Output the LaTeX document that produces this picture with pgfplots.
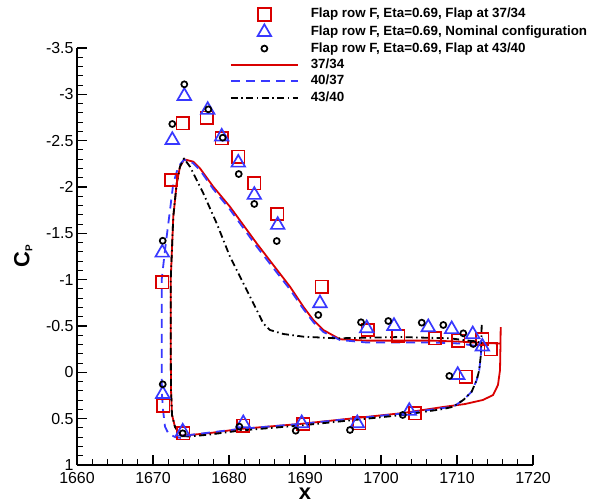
\documentclass[border=0pt]{standalone}
\usepackage{fontspec}
\setmainfont{Liberation Sans}
\usepackage{pgfplots}
\pgfplotsset{compat=1.18}
\definecolor{myred}{rgb}{0.85,0,0}
\definecolor{myblue}{rgb}{0.22,0.22,1}
\begin{document}
\begin{tikzpicture}
\path[use as bounding box] (0,0) rectangle (599bp,504bp);
\begin{axis}[
  at={(77bp,39bp)}, anchor=south west,
  scale only axis, width=456bp, height=417bp,
  xmin=1660, xmax=1720, ymin=-3.5, ymax=1,
  y dir=reverse,
  axis x line*=bottom, axis y line*=left,
  axis line style={line width=1.6bp},
  xtick={1660,1670,...,1720},
  ytick={-3.5,-3,-2.5,-2,-1.5,-1,-0.5,0,0.5,1},
  minor x tick num=4, minor y tick num=4,
  tick align=inside,
  major tick length=10bp, minor tick length=6bp,
  every tick/.style={black, line width=1.1bp},
  /pgf/number format/assume math mode=true,
  /pgf/number format/1000 sep={},
  tick label style={font=\fontsize{16}{19}\selectfont},
  xticklabel style={inner sep=0pt, yshift=-7.3bp},
  xlabel={x}, ylabel={C\raisebox{-3bp}{\fontsize{10}{12}\selectfont P}},
  label style={font=\bfseries\fontsize{22}{26}\selectfont, inner sep=0pt},
  xlabel style={at={(axis description cs:0.5,-0.0825)}, anchor=base},
  ylabel style={at={(axis description cs:-0.118,0.5)}, anchor=center},
  legend style={draw=none, fill=none, inner sep=0pt, outer sep=0pt,
    at={(0.3355,1.096)}, anchor=north west,
    font=\bfseries\fontsize{13.4}{15}\selectfont,
    column sep=12bp, row sep=3.4bp,
    nodes={inner sep=0pt, text height=10bp, text depth=3bp}},
  legend cell align=left,
  legend image code/.code={\draw[mark repeat=2,mark phase=2,#1] plot coordinates {(0bp,0bp) (33.5bp,0bp) (67bp,0bp)};},
  clip=false,
]
% Squares: Flap at 37/34
\addplot[only marks, mark=square, mark size=6.3bp, draw=myred, line width=1.7bp] coordinates {
(1671.22,-0.972) (1672.37,-2.076) (1673.91,-2.687) (1677.07,-2.748) (1679.04,-2.526)
(1681.22,-2.327) (1683.33,-2.04) (1686.36,-1.709) (1692.2,-0.924) (1698.25,-0.457)
(1702.28,-0.392) (1707.1,-0.367) (1710.17,-0.341) (1713.3,-0.36) (1714.43,-0.249)
(1711.14,0.047) (1704.47,0.442) (1697.14,0.550) (1689.78,0.557) (1681.88,0.576)
(1673.99,0.658) (1671.36,0.360)
};
\addlegendentry{Flap row F, Eta=0.69, Flap at 37/34}
% Triangles: nominal
\addplot[only marks, mark=triangle, mark size=7.8bp, draw=myblue, line width=1.7bp] coordinates {
(1671.22,-1.291) (1672.54,-2.507) (1674.12,-2.982) (1677.2,-2.831) (1679.04,-2.543)
(1681.22,-2.262) (1683.33,-1.914) (1686.41,-1.59) (1691.97,-0.745) (1698.12,-0.475)
(1701.71,-0.5) (1706.22,-0.486) (1709.3,-0.465) (1712.07,-0.41) (1713.33,-0.277)
(1710.09,0.029) (1703.72,0.417) (1696.88,0.55) (1689.57,0.55) (1681.88,0.55)
(1673.91,0.640) (1671.28,0.234)
};
\addlegendentry{Flap row F, Eta=0.69, Nominal configuration}
% Circles: Flap at 43/40
\addplot[only marks, mark=o, mark size=3bp, draw=black, line width=1.7bp] coordinates {
(1674.12,-3.108) (1672.54,-2.68) (1677.28,-2.838) (1679.17,-2.532) (1681.28,-2.14)
(1683.33,-1.817) (1686.28,-1.417) (1671.28,-1.42) (1691.75,-0.619) (1697.37,-0.54)
(1700.96,-0.554) (1705.36,-0.536) (1708.2,-0.511) (1710.83,-0.421) (1712.14,-0.306)
(1708.99,0.039) (1702.86,0.460) (1695.92,0.622) (1688.78,0.630) (1681.36,0.586)
(1673.91,0.658) (1671.28,0.129)
};
\addlegendentry{Flap row F, Eta=0.69, Flap at 43/40}
% 37/34 red solid
\addplot[myred, line width=1.8bp, line join=round, mark=none] coordinates {
(1715.75,-0.489) (1715.72,-0.295) (1715.66,-0.025) (1715.39,0.137) (1714.74,0.245)
(1713.42,0.298) (1711.05,0.342) (1708.16,0.374) (1702.9,0.439) (1689.34,0.557)
(1681.45,0.611) (1677.5,0.655) (1674.87,0.676) (1673.68,0.682) (1672.9,0.590)
(1672.5,0.460) (1672.37,0.190) (1672.33,-0.349) (1672.33,-0.997) (1672.67,-1.680)
(1673.12,-2.040) (1673.55,-2.219) (1674.12,-2.299) (1675.30,-2.273) (1676.18,-2.202)
(1677.93,-2.003) (1680.13,-1.787) (1681.88,-1.590) (1683.64,-1.392) (1685.83,-1.158)
(1688.03,-0.924) (1689.78,-0.708) (1691.09,-0.565) (1692.41,-0.457) (1694.6,-0.357)
(1698.12,-0.342) (1706.88,-0.342) (1710.39,-0.331) (1713.42,-0.317) (1715.66,-0.311)
};
\addlegendentry{37/34}
% 40/37 blue dashed
\addplot[myblue, line width=1.8bp, dash pattern=on 9bp off 6bp, line join=round, mark=none] coordinates {
(1713.16,-0.277) (1713.16,-0.206) (1712.93,-0.025) (1712.59,0.083) (1711.93,0.209)
(1710.83,0.298) (1709.51,0.371) (1708.16,0.385) (1702.9,0.444) (1689.34,0.557)
(1681.45,0.611) (1677.5,0.649) (1674.87,0.676) (1673.99,0.712) (1672.9,0.698)
(1672.01,0.658) (1671.58,0.587) (1671.32,0.406) (1671.14,0.190) (1671.14,-0.349)
(1671.14,-0.997) (1671.58,-1.320) (1672.24,-1.752) (1672.67,-2.040) (1673.33,-2.219)
(1674.08,-2.297) (1675.26,-2.259) (1676.18,-2.183) (1677.93,-1.978) (1680.13,-1.757)
(1681.88,-1.558) (1683.64,-1.358) (1685.83,-1.126) (1688.03,-0.894) (1689.78,-0.684)
(1691.09,-0.543) (1692.41,-0.435) (1694.6,-0.349) (1698.12,-0.322) (1706.88,-0.322)
(1710.39,-0.311) (1713.16,-0.277)
};
\addlegendentry{40/37}
% 43/40 black dash-dot
\addplot[black, line width=1.8bp, dash pattern=on 7bp off 3.5bp on 1.5bp off 3.5bp, line join=round, mark=none] coordinates {
(1713.25,-0.511) (1713.16,-0.206) (1712.93,-0.025) (1712.59,0.083) (1711.93,0.209)
(1710.83,0.298) (1709.51,0.371) (1708.16,0.396) (1702.9,0.460) (1689.34,0.574)
(1681.45,0.628) (1677.5,0.671) (1674.87,0.692) (1673.68,0.687) (1672.9,0.590)
(1672.5,0.460) (1672.37,0.190) (1672.33,-0.349) (1672.33,-0.997) (1672.67,-1.680)
(1673.12,-2.040) (1673.55,-2.219) (1674.08,-2.308) (1674.87,-2.219) (1676.62,-1.932)
(1678.38,-1.608) (1680.13,-1.248) (1681.88,-0.961) (1683.2,-0.745) (1684.51,-0.529)
(1685.39,-0.457) (1687.14,-0.414) (1689.78,-0.385) (1694.17,-0.367) (1702.5,-0.381)
(1709.08,-0.367) (1712.59,-0.331) (1713.22,-0.317)
};
\addlegendentry{43/40}
\end{axis}
\end{tikzpicture}
\end{document}
